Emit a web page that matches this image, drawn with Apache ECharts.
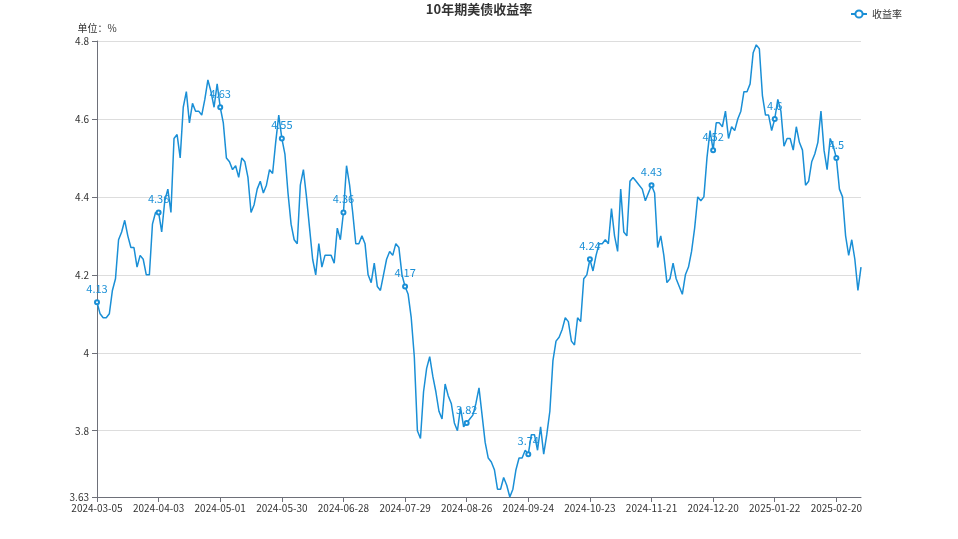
<!DOCTYPE html>
<html><head><meta charset="utf-8">
<script src="https://cdn.jsdelivr.net/npm/echarts@6/dist/echarts.min.js"></script>
<style>html,body{margin:0;padding:0;background:#fff}#c{width:958px;height:539px}</style>
</head><body><div id="c"></div>
<script>
const dates = ["2024-03-05","2024-03-06","2024-03-07","2024-03-08","2024-03-11","2024-03-12","2024-03-13","2024-03-14","2024-03-15","2024-03-18","2024-03-19","2024-03-20","2024-03-21","2024-03-22","2024-03-25","2024-03-26","2024-03-27","2024-03-28","2024-04-01","2024-04-02",
"2024-04-03","2024-04-04","2024-04-05","2024-04-08","2024-04-09","2024-04-10","2024-04-11","2024-04-12","2024-04-15","2024-04-16","2024-04-17","2024-04-18","2024-04-19","2024-04-22","2024-04-23","2024-04-24","2024-04-25","2024-04-26","2024-04-29","2024-04-30",
"2024-05-01","2024-05-02","2024-05-03","2024-05-06","2024-05-07","2024-05-08","2024-05-09","2024-05-10","2024-05-13","2024-05-14","2024-05-15","2024-05-16","2024-05-17","2024-05-20","2024-05-21","2024-05-22","2024-05-23","2024-05-24","2024-05-28","2024-05-29",
"2024-05-30","2024-05-31","2024-06-03","2024-06-04","2024-06-05","2024-06-06","2024-06-07","2024-06-10","2024-06-11","2024-06-12","2024-06-13","2024-06-14","2024-06-17","2024-06-18","2024-06-20","2024-06-21","2024-06-24","2024-06-25","2024-06-26","2024-06-27",
"2024-06-28","2024-07-01","2024-07-02","2024-07-03","2024-07-05","2024-07-08","2024-07-09","2024-07-10","2024-07-11","2024-07-12","2024-07-15","2024-07-16","2024-07-17","2024-07-18","2024-07-19","2024-07-22","2024-07-23","2024-07-24","2024-07-25","2024-07-26",
"2024-07-29","2024-07-30","2024-07-31","2024-08-01","2024-08-02","2024-08-05","2024-08-06","2024-08-07","2024-08-08","2024-08-09","2024-08-12","2024-08-13","2024-08-14","2024-08-15","2024-08-16","2024-08-19","2024-08-20","2024-08-21","2024-08-22","2024-08-23",
"2024-08-26","2024-08-27","2024-08-28","2024-08-29","2024-08-30","2024-09-03","2024-09-04","2024-09-05","2024-09-06","2024-09-09","2024-09-10","2024-09-11","2024-09-12","2024-09-13","2024-09-16","2024-09-17","2024-09-18","2024-09-19","2024-09-20","2024-09-23",
"2024-09-24","2024-09-25","2024-09-26","2024-09-27","2024-09-30","2024-10-01","2024-10-02","2024-10-03","2024-10-04","2024-10-07","2024-10-08","2024-10-09","2024-10-10","2024-10-11","2024-10-15","2024-10-16","2024-10-17","2024-10-18","2024-10-21","2024-10-22",
"2024-10-23","2024-10-24","2024-10-25","2024-10-28","2024-10-29","2024-10-30","2024-10-31","2024-11-01","2024-11-04","2024-11-05","2024-11-06","2024-11-07","2024-11-08","2024-11-12","2024-11-13","2024-11-14","2024-11-15","2024-11-18","2024-11-19","2024-11-20",
"2024-11-21","2024-11-22","2024-11-25","2024-11-26","2024-11-27","2024-11-29","2024-12-02","2024-12-03","2024-12-04","2024-12-05","2024-12-06","2024-12-09","2024-12-10","2024-12-11","2024-12-12","2024-12-13","2024-12-16","2024-12-17","2024-12-18","2024-12-19",
"2024-12-20","2024-12-23","2024-12-24","2024-12-26","2024-12-27","2024-12-30","2024-12-31","2025-01-02","2025-01-03","2025-01-06","2025-01-07","2025-01-08","2025-01-09","2025-01-10","2025-01-13","2025-01-14","2025-01-15","2025-01-16","2025-01-17","2025-01-21",
"2025-01-22","2025-01-23","2025-01-24","2025-01-27","2025-01-28","2025-01-29","2025-01-30","2025-01-31","2025-02-03","2025-02-04","2025-02-05","2025-02-06","2025-02-07","2025-02-10","2025-02-11","2025-02-12","2025-02-13","2025-02-14","2025-02-18","2025-02-19",
"2025-02-20","2025-02-21","2025-02-24","2025-02-25","2025-02-26","2025-02-27","2025-02-28","2025-03-03","2025-03-04"];
const yields = [4.13,4.10,4.09,4.09,4.10,4.16,4.19,4.29,4.31,4.34,4.30,4.27,4.27,4.22,4.25,4.24,4.20,4.20,4.33,4.36,
4.36,4.31,4.39,4.42,4.36,4.55,4.56,4.50,4.63,4.67,4.59,4.64,4.62,4.62,4.61,4.65,4.70,4.67,4.63,4.69,
4.63,4.59,4.50,4.49,4.47,4.48,4.45,4.50,4.49,4.45,4.36,4.38,4.42,4.44,4.41,4.43,4.47,4.46,4.54,4.61,
4.55,4.51,4.41,4.33,4.29,4.28,4.43,4.47,4.40,4.32,4.24,4.20,4.28,4.22,4.25,4.25,4.25,4.23,4.32,4.29,
4.36,4.48,4.43,4.36,4.28,4.28,4.30,4.28,4.20,4.18,4.23,4.17,4.16,4.20,4.24,4.26,4.25,4.28,4.27,4.20,
4.17,4.15,4.09,3.99,3.80,3.78,3.90,3.96,3.99,3.94,3.90,3.85,3.83,3.92,3.89,3.87,3.82,3.80,3.86,3.81,
3.82,3.83,3.84,3.87,3.91,3.84,3.77,3.73,3.72,3.70,3.65,3.65,3.68,3.66,3.63,3.65,3.70,3.73,3.73,3.75,
3.74,3.79,3.79,3.75,3.81,3.74,3.79,3.85,3.98,4.03,4.04,4.06,4.09,4.08,4.03,4.02,4.09,4.08,4.19,4.20,
4.24,4.21,4.25,4.28,4.28,4.29,4.28,4.37,4.30,4.26,4.42,4.31,4.30,4.44,4.45,4.44,4.43,4.42,4.39,4.41,
4.43,4.41,4.27,4.30,4.25,4.18,4.19,4.23,4.19,4.17,4.15,4.20,4.22,4.26,4.32,4.40,4.39,4.40,4.50,4.57,
4.52,4.59,4.59,4.58,4.62,4.55,4.58,4.57,4.60,4.62,4.67,4.67,4.69,4.77,4.79,4.78,4.66,4.61,4.61,4.57,
4.60,4.65,4.62,4.53,4.55,4.55,4.52,4.58,4.54,4.52,4.43,4.44,4.49,4.51,4.54,4.62,4.52,4.47,4.55,4.53,
4.50,4.42,4.40,4.30,4.25,4.29,4.24,4.16,4.22];
const seriesName = "收益率";
const titleText = "10年期美债收益率";
const yAxisName = "单位：%";

const FONT = "'Noto Sans CJK SC', sans-serif";
const chart = echarts.init(document.getElementById('c'));
const lineColor = '#1a8fd6';
chart.setOption({
  animation: false,
  textStyle: { fontFamily: FONT },
  title: { text: titleText, left: 'center', top: -2, textStyle: { fontSize: 13, fontWeight: 'bold', color: '#333', fontFamily: FONT } },
  legend: { right: 51, top: 4, itemWidth: 16, itemHeight: 9, itemGap: 10, data: [seriesName], textStyle: { fontSize: 10, color: '#333', fontFamily: FONT } },
  grid: { left: 97, right: 97, top: 41, bottom: 42 },
  xAxis: {
    type: 'category', data: dates, boundaryGap: false,
    axisLine: { lineStyle: { color: '#6E7079' } },
    axisTick: { interval: 19 },
    axisLabel: { fontSize: 10, color: '#333', interval: 19, margin: 6, fontFamily: FONT }
  },
  yAxis: {
    type: 'value', min: 3.63, max: 4.8,
    name: yAxisName, nameGap: 8, nameTextStyle: { fontSize: 10, color: '#333', align: 'center', fontFamily: FONT },
    axisLine: { show: true, lineStyle: { color: '#6E7079' } },
    axisTick: { show: true },
    axisLabel: { fontSize: 10, color: '#333', fontFamily: FONT },
    splitLine: { lineStyle: { color: '#ddd' } }
  },
  series: [{
    name: seriesName, type: 'line', data: yields,
    symbol: 'emptyCircle', symbolSize: 4,
    itemStyle: { color: lineColor, borderWidth: 1 },
    lineStyle: { color: lineColor, width: 1.5 },
    label: { show: true, color: lineColor, fontSize: 11, fontFamily: FONT }
  }]
});
</script></body></html>
